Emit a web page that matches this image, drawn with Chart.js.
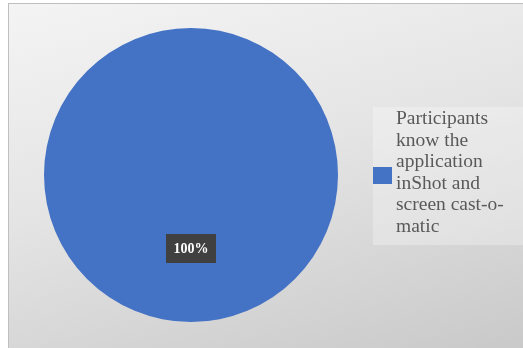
<!DOCTYPE html>
<html>
<head>
<meta charset="utf-8">
<script src="https://cdn.jsdelivr.net/npm/chart.js@4.4.1/dist/chart.umd.min.js"></script>
<style>
  html, body { margin: 0; padding: 0; background: #fff; }
  #wrap { position: relative; width: 523px; height: 348px; overflow: hidden; }
  #frame {
    position: absolute; left: 8px; top: 3px; width: 525px; height: 355px;
    border: 1px solid #bfbfbf; box-sizing: border-box;
    background: linear-gradient(165deg, #f4f4f4 0%, #e4e4e4 45%, #c8c8c8 100%);
  }
  #pie { position: absolute; left: 0; top: 0; }
  #legend {
    position: absolute; left: 373px; top: 107px; width: 150px; height: 138px;
    background: rgba(255,255,255,0.28);
  }
  .item { position: relative; }
  .swatch { position: absolute; left: 0; top: 60px; width: 19px; height: 17px; }
  .text {
    position: absolute; left: 23px; top: 0; width: 124px;
    font-family: "Liberation Serif", "Times New Roman", serif;
    font-size: 19.5px; line-height: 21.5px; color: #595959;
  }
</style>
</head>
<body>
<div id="wrap">
  <div id="frame"></div>
  <canvas id="pie" width="523" height="348"></canvas>
  <div id="legend"></div>
</div>
<script>
const categories = ['Participants know the application inShot and screen cast-o-matic'];
const values = [100];
const colors = ['#4472C4'];

// "100%" tag drawn on the slice at its tooltip position
const valueTag = {
  id: 'valueTag',
  afterDatasetsDraw(chart) {
    const { ctx } = chart;
    const meta = chart.getDatasetMeta(0);
    const total = values.reduce((a, b) => a + b, 0);
    meta.data.forEach((arc, i) => {
      const p = arc.tooltipPosition();
      const txt = Math.round(values[i] / total * 100) + '%';
      ctx.save();
      ctx.fillStyle = '#404040';
      ctx.fillRect(p.x - 25, p.y - 14.5, 50, 29);
      ctx.font = 'bold 14px "Liberation Serif", serif';
      ctx.fillStyle = '#ffffff';
      ctx.textAlign = 'center';
      ctx.textBaseline = 'middle';
      ctx.fillText(txt, p.x, p.y + 1);
      ctx.restore();
    });
  }
};

const chart = new Chart(document.getElementById('pie'), {
  type: 'pie',
  data: {
    labels: categories,
    datasets: [{ data: values, backgroundColor: colors, borderWidth: 0 }]
  },
  options: {
    responsive: false,
    animation: false,
    layout: { padding: { left: 44, top: 28, right: 185, bottom: 26 } },
    plugins: { legend: { display: false }, tooltip: { enabled: false } }
  },
  plugins: [valueTag]
});

// legend built from the chart's own label list
const legendEl = document.getElementById('legend');
legendEl.innerHTML = chart.options.plugins.legend.labels.generateLabels(chart).map(l => `
  <div class="item">
    <div class="swatch" style="background:${l.fillStyle}"></div>
    <div class="text">${l.text}</div>
  </div>`).join('');
</script>
</body>
</html>
